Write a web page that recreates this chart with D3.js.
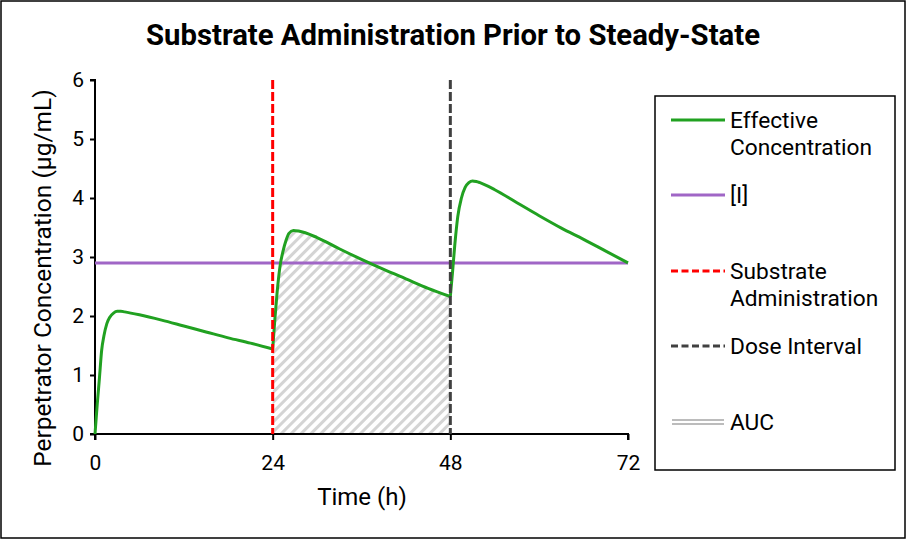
<!DOCTYPE html>
<html>
<head>
<meta charset="utf-8">
<script src="https://cdn.jsdelivr.net/npm/d3@7"></script>
<style>
  body { margin: 0; background: #fff; }
  text { font-family: Roboto, "Noto Sans", sans-serif; fill: #000; }
</style>
</head>
<body>
<svg id="chart" width="907" height="540"></svg>
<script>
// effective concentration, one array per dosing interval [h, µg/mL]
const firstInterval = [
  [0, 0], [0.3, 0.5], [0.6, 0.95], [0.9, 1.42], [1.2, 1.66], [1.6, 1.87], [2, 1.98],
  [2.5, 2.05], [3, 2.08], [3.5, 2.08], [4, 2.07], [6, 2.02], [9, 1.93], [12, 1.83],
  [15, 1.73], [18, 1.63], [21, 1.54], [24, 1.44]
];
const secondInterval = [
  [24, 1.44], [24.3, 1.95], [24.6, 2.4], [25, 2.85], [25.4, 3.1], [25.8, 3.28], [26.2, 3.4],
  [26.8, 3.45], [27.5, 3.44], [30, 3.33], [33, 3.14], [36, 2.96], [39, 2.79], [42, 2.63],
  [45, 2.47], [48, 2.33]
];
const thirdInterval = [
  [48, 2.33], [48.3, 2.75], [48.6, 3.2], [49, 3.68], [49.5, 4.0], [50, 4.18], [50.5, 4.26],
  [51, 4.29], [51.5, 4.28], [52, 4.26], [54, 4.14], [57, 3.92], [60, 3.7], [63, 3.49],
  [66, 3.3], [69, 3.1], [72, 2.9]
];
const inhibitorLevel = 2.9;          // [I]
const substrateTime = 24;
const doseIntervalTime = 48;
const xTicks = [0, 24, 48, 72];
const yTicks = [0, 1, 2, 3, 4, 5, 6];

const svg = d3.select("#chart");
const x = d3.scaleLinear().domain([0, 72]).range([95, 628]);
const y = d3.scaleLinear().domain([0, 6]).range([434, 80]);

const colors = {
  effective: "#21a121",
  inhibitor: "#a066c6",
  substrate: "#ff0000",
  dose: "#404040",
  hatch: "#d4d4d4",
  auc: "#a6a6a6"
};

svg.append("rect").attr("width", 907).attr("height", 540).attr("fill", "#fff");
svg.append("rect")
  .attr("x", 1).attr("y", 1).attr("width", 904).attr("height", 537)
  .attr("fill", "none").attr("stroke", "#000").attr("stroke-width", 1.5);

const defs = svg.append("defs");
defs.append("pattern")
  .attr("id", "hatch")
  .attr("patternUnits", "userSpaceOnUse")
  .attr("width", 7).attr("height", 7)
  .attr("patternTransform", "rotate(45)")
  .append("rect")
  .attr("width", 3).attr("height", 7)
  .attr("fill", colors.hatch);

// AUC between substrate administration and next dose
const area = d3.area()
  .x(d => x(d[0]))
  .y0(y(0))
  .y1(d => y(d[1]))
  .curve(d3.curveMonotoneX);
svg.append("path")
  .datum(secondInterval)
  .attr("d", area)
  .attr("fill", "url(#hatch)");

// axes
const yAxis = svg.append("g")
  .attr("transform", `translate(${x(0)},0)`)
  .call(d3.axisLeft(y).tickValues(yTicks).tickSize(5).tickPadding(6).tickFormat(d3.format("d")));
const xAxis = svg.append("g")
  .attr("transform", `translate(0,${y(0)})`)
  .call(d3.axisBottom(x).tickValues(xTicks).tickSize(6).tickPadding(15).tickFormat(d3.format("d")));
[xAxis, yAxis].forEach(g => {
  g.select(".domain").attr("stroke", "#000").attr("stroke-width", 2);
  g.selectAll(".tick line").attr("stroke", "#000").attr("stroke-width", 2);
  g.selectAll(".tick text").attr("font-size", 21).attr("font-family", "Roboto, sans-serif").attr("fill", "#000");
});
xAxis.select(".domain").attr("d", `M${x(0)},6V0H${x(72)}V6`);
yAxis.select(".domain").attr("d", `M-5,${y(6)}H0V${y(0)}H-5`);

// [I]
svg.append("line")
  .attr("x1", x(0)).attr("x2", x(72))
  .attr("y1", y(inhibitorLevel)).attr("y2", y(inhibitorLevel))
  .attr("stroke", colors.inhibitor).attr("stroke-width", 3);

// effective concentration
const line = d3.line()
  .x(d => x(d[0]))
  .y(d => y(d[1]))
  .curve(d3.curveMonotoneX);
svg.selectAll("path.conc")
  .data([firstInterval, secondInterval, thirdInterval])
  .join("path")
  .attr("class", "conc")
  .attr("d", line)
  .attr("fill", "none")
  .attr("stroke", colors.effective)
  .attr("stroke-width", 3)
  .attr("stroke-linejoin", "round");

// vertical markers
svg.selectAll("line.marker")
  .data([[substrateTime, colors.substrate], [doseIntervalTime, colors.dose]])
  .join("line")
  .attr("class", "marker")
  .attr("x1", d => x(d[0])).attr("x2", d => x(d[0]))
  .attr("y1", y(6)).attr("y2", y(0))
  .attr("stroke", d => d[1])
  .attr("stroke-width", 3)
  .attr("stroke-dasharray", "9,3");

// titles
svg.append("text")
  .attr("x", 453).attr("y", 45)
  .attr("text-anchor", "middle")
  .attr("font-size", 29.3).attr("font-weight", "bold")
  .text("Substrate Administration Prior to Steady-State");
svg.append("text")
  .attr("x", 362).attr("y", 505)
  .attr("text-anchor", "middle")
  .attr("font-size", 24)
  .text("Time (h)");
svg.append("text")
  .attr("transform", "translate(51,278) rotate(-90)")
  .attr("text-anchor", "middle")
  .attr("font-size", 24.5)
  .text("Perpetrator Concentration (µg/mL)");

// legend
const legend = svg.append("g");
legend.append("rect")
  .attr("x", 655).attr("y", 96).attr("width", 240).attr("height", 374)
  .attr("fill", "#fff").attr("stroke", "#000").attr("stroke-width", 1.5);

const legendItems = [
  { lines: ["Effective", "Concentration"], y: 120, color: colors.effective, dash: null },
  { lines: ["[I]"], y: 195, color: colors.inhibitor, dash: null },
  { lines: ["Substrate", "Administration"], y: 271, color: colors.substrate, dash: "7,3.5" },
  { lines: ["Dose Interval"], y: 346, color: colors.dose, dash: "7,3.5" }
];
legendItems.forEach(item => {
  legend.append("line")
    .attr("x1", 671).attr("x2", 725)
    .attr("y1", item.y).attr("y2", item.y)
    .attr("stroke", item.color).attr("stroke-width", 3)
    .attr("stroke-dasharray", item.dash);
  item.lines.forEach((t, i) => {
    legend.append("text")
      .attr("x", 730).attr("y", item.y + i * 27 + 8)
      .attr("font-size", 22.7)
      .text(t);
  });
});
[420, 424].forEach(ly => {
  legend.append("line")
    .attr("x1", 672).attr("x2", 724)
    .attr("y1", ly).attr("y2", ly)
    .attr("stroke", colors.auc).attr("stroke-width", 1.5);
});
legend.append("text")
  .attr("x", 730).attr("y", 430)
  .attr("font-size", 22.7)
  .text("AUC");
</script>
</body>
</html>
